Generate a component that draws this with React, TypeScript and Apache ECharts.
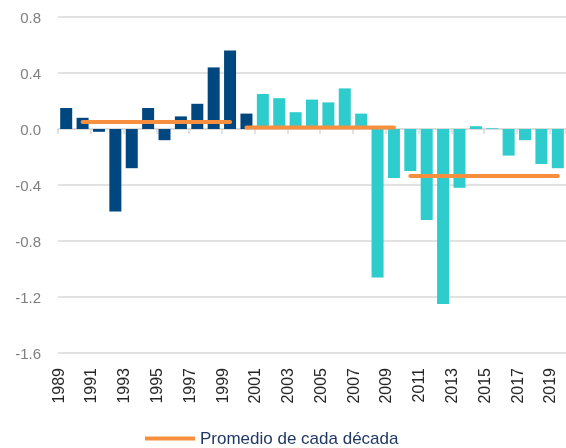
import React, { useEffect, useRef } from "react";
import * as echarts from "echarts";

const years: string[] = [
  "1989", "1990", "1991", "1992", "1993", "1994", "1995", "1996", "1997", "1998",
  "1999", "2000", "2001", "2002", "2003", "2004", "2005", "2006", "2007", "2008",
  "2009", "2010", "2011", "2012", "2013", "2014", "2015", "2016", "2017", "2018", "2019",
];

const values: number[] = [
  0.15, 0.08, -0.02, -0.59, -0.28, 0.15, -0.08, 0.09, 0.18, 0.44,
  0.56, 0.11, 0.25, 0.22, 0.12, 0.21, 0.19, 0.29, 0.11, -1.06,
  -0.35, -0.3, -0.65, -1.25, -0.42, 0.02, 0.005, -0.19, -0.08, -0.25, -0.28,
];

// Decade averages: [first year, last year, value]
const decadeStart: string[] = ["1990", "2000", "2010"];
const decadeEnd: string[] = ["1999", "2009", "2019"];
const decadeAvg: number[] = [0.05, 0.01, -0.335];

const yTicks: number[] = [-1.6, -1.2, -0.8, -0.4, 0.0, 0.4, 0.8];

const DARK = "#00467F";
const TEAL = "#2ECCCC";
const ORANGE = "#F78F3F";
const LEGEND_NAME = "Promedio de cada década";

export default function App() {
  const ref = useRef<HTMLDivElement>(null);

  useEffect(() => {
    if (!ref.current) return;
    const chart = echarts.init(ref.current, null, { renderer: "svg" });

    const decadeSeries = decadeAvg.map((avg, i) => {
      const s = years.indexOf(decadeStart[i]);
      const e = years.indexOf(decadeEnd[i]);
      const data = years.map((_, k) => (k >= s && k <= e ? avg : null));
      return {
        type: "line",
        name: LEGEND_NAME,
        data,
        symbol: "none",
        connectNulls: false,
        lineStyle: { color: ORANGE, width: 4, cap: "round" },
        itemStyle: { color: ORANGE },
        z: 5,
      };
    });

    chart.setOption({
      animation: false,
      textStyle: { fontFamily: "Liberation Sans, Arial, sans-serif" },
      grid: { left: 58, right: 0, top: 17, bottom: 95 },
      legend: {
        data: [LEGEND_NAME],
        left: 145,
        bottom: 1,
        padding: 0,
        icon: "rect",
        itemWidth: 50,
        itemHeight: 4,
        itemGap: 6,
        textStyle: { color: "#1F3864", fontSize: 17, fontFamily: "Liberation Sans, Arial, sans-serif" },
      },
      xAxis: [
        {
          type: "category",
          data: years,
          position: "bottom",
          axisLine: { show: false, onZero: false },
          axisTick: { show: false },
          axisLabel: {
            interval: 1,
            rotate: 90,
            margin: 15,
            fontSize: 16,
            color: "#262626",
            verticalAlign: "bottom",
          },
          splitLine: { show: false },
        },
        {
          type: "category",
          data: years,
          position: "bottom",
          axisLine: { show: true, onZero: true, lineStyle: { color: "#D9D9D9", width: 1.5 } },
          axisTick: { show: true, interval: 1, length: 5, lineStyle: { color: "#D9D9D9", width: 1.5 } },
          axisLabel: { show: false, interval: 1 },
          splitLine: { show: false },
        },
      ],
      yAxis: {
        type: "value",
        min: yTicks[0],
        max: yTicks[yTicks.length - 1],
        interval: 0.4,
        axisLine: { show: false },
        axisTick: { show: false },
        axisLabel: {
          margin: 17,
          fontSize: 15,
          color: "#7F7F7F",
          formatter: (v: number) => v.toFixed(1),
        },
        splitLine: { lineStyle: { color: "#D9D9D9", width: 1.5 } },
      },
      series: [
        {
          type: "bar",
          name: "Valor",
          data: values.map((v, i) => ({
            value: v,
            itemStyle: { color: Number(years[i]) <= 2000 ? DARK : TEAL },
          })),
          barWidth: 12,
          xAxisIndex: 0,
        },
        ...decadeSeries,
      ],
    });

    return () => chart.dispose();
  }, []);

  return (
    <div
      ref={ref}
      style={{ position: "fixed", left: 0, top: 0, width: 566, height: 448 }}
    />
  );
}
